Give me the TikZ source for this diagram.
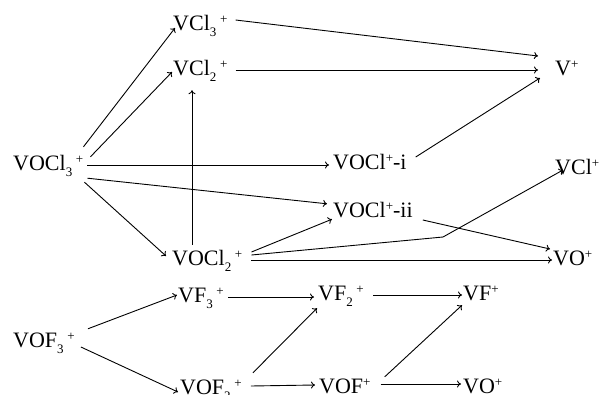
\documentclass[tikz,border=0pt]{standalone}
\usepackage{fontspec}
\setmainfont{Liberation Serif}
\usepackage{tikz}
\usetikzlibrary{arrows.meta}

\newcommand{\sbs}[1]{\raisebox{-6pt}{\fontsize{13}{13}\selectfont #1}}
\newcommand{\sps}[1]{\raisebox{7pt}{\fontsize{13}{13}\selectfont #1}}

\tikzset{
    ion/.style={anchor=base west, inner xsep=4pt, inner ysep=1pt,
        text height=14pt, text depth=4pt, font=\fontsize{22}{26}\selectfont},
    path/.style={-{To[length=4pt,width=7pt]}, line width=0.9pt}
}

\begin{document}
\begin{tikzpicture}[x=1pt, y=-1pt]

    \useasboundingbox (0,0) rectangle (603,394);

    \node[ion] (vcl3)   at (169,30)  {VCl\sbs{3}\,\sps{+}};
    \node[ion] (vcl2)   at (169,75)  {VCl\sbs{2}\,\sps{+}};
    \node[ion] (vplus)  at (551,75)  {V\sps{+}};
    \node[ion] (vocl3)  at (9,170)   {VOCl\sbs{3}\,\sps{+}};
    \node[ion] (vocli)  at (329,169) {VOCl\sps{+}-i};
    \node[ion] (vclp)   at (551,174) {VCl\sps{+}};
    \node[ion] (voclii) at (329,217) {VOCl\sps{+}-ii};
    \node[ion] (vocl2)  at (168,265) {VOCl\sbs{2}\,\sps{+}};
    \node[ion] (vo)     at (549,265) {VO\sps{+}};
    \node[ion] (vfiii)  at (174,302) {VF\sbs{3}\,\sps{+}};
    \node[ion] (vfii)   at (314,300) {VF\sbs{2}\,\sps{+}};
    \node[ion] (vf)     at (459,300) {VF\sps{+}};
    \node[ion] (vofiii) at (9,347)   {VOF\sbs{3}\,\sps{+}};
    \node[ion] (vofii)  at (176,394) {VOF\sbs{2}\,\sps{+}};
    \node[ion] (vof)    at (315,393) {VOF\sps{+}};
    \node[ion] (vob)    at (459,393) {VO\sps{+}};

    \coordinate (kink) at (443,237);

    \draw[path] ([xshift=-4pt,yshift=8pt]vocl3.north east) -- ([xshift=6pt,yshift=-3pt]vcl3.west);
    \draw[path] ([xshift=3pt,yshift=-2pt]vocl3.north east) -- ([xshift=3pt,yshift=-2pt]vcl2.west);
    \draw[path] (vocl3.east) -- (vocl3.east -| vocli.west);
    \draw[path] ([yshift=-3pt]vocl3.south east) -- ([xshift=-2pt,yshift=-2pt]voclii.north west);
    \draw[path] ([xshift=-3pt,yshift=-7pt]vocl3.south east) -- ([xshift=-2pt,yshift=4pt]vocl2.west);
    \draw[path] ([xshift=24pt,yshift=5pt]vocl2.north west) -- ([xshift=23pt,yshift=-10pt]vcl2.south west);

    \draw[path] ([xshift=4pt,yshift=5pt]vcl3.east) -- ([xshift=-13pt,yshift=14pt]vplus.west);
    \draw[path] ([xshift=4pt]vcl2.east) -- ([xshift=-13pt]vplus.west);
    \draw[path] ([xshift=5pt,yshift=7pt]vocli.east) -- ([xshift=-11pt,yshift=-8pt]vplus.west);

    \draw[path] ([xshift=5pt,yshift=8pt]vocl2.east) -- ([xshift=3pt,yshift=3pt]voclii.south west);
    \draw[path] ([xshift=5pt,yshift=5pt]vocl2.east) -- (kink) -- ([xshift=12pt,yshift=-1pt]vclp.west);
    \draw[path] ([xshift=5pt]vocl2.east) -- ([xshift=3pt]vo.west);
    \draw[path] ([xshift=6pt,yshift=-8pt]voclii.east) -- ([xshift=1pt,yshift=11pt]vo.west);

    \draw[path] (vfiii.east) -- (vfiii.east -| vfii.west);
    \draw[path] ([xshift=5pt]vfii.east) -- ([xshift=3pt]vf.west);
    \draw[path] ([xshift=9pt,yshift=3pt]vofiii.north east) -- ([xshift=3pt,yshift=2pt]vfiii.west);
    \draw[path] ([xshift=2pt,yshift=-5pt]vofiii.east) -- ([xshift=2pt,yshift=-3pt]vofii.west);
    \draw[path] ([xshift=7pt,yshift=6pt]vofii.north east) -- ([xshift=3pt,yshift=-3pt]vfii.south west);
    \draw[path] ([xshift=5pt,yshift=3pt]vofii.east) -- ([yshift=3pt]vof.west);
    \draw[path] ([xshift=10pt,yshift=1pt]vof.north east) -- ([xshift=3pt]vf.south west);
    \draw[path] ([xshift=6pt,yshift=4pt]vof.east) -- ([xshift=2pt,yshift=4pt]vob.west);

\end{tikzpicture}
\end{document}
